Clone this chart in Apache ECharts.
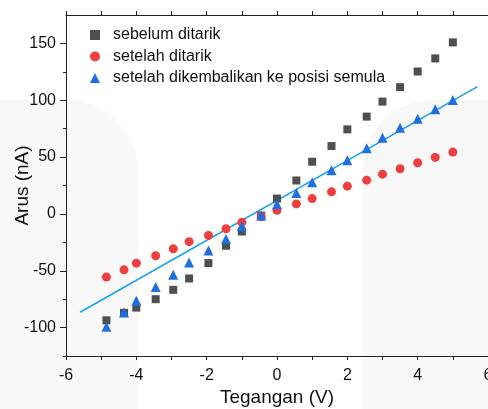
<!DOCTYPE html>
<html>
<head>
  <meta charset="utf-8">
  <title>Arus vs Tegangan</title>
  <style>
    body { margin: 0; background: #ffffff; }
    #chart { width: 488px; height: 409px; }
  </style>
</head>
<body>
  <div id="chart"></div>
  <script src="https://cdn.jsdelivr.net/npm/echarts@6/dist/echarts.min.js"></script>
  <script>
    // Tegangan (V), same for the three measurements
    var tegangan = [-4.85, -4.35, -4, -3.45, -2.95, -2.5, -1.95, -1.45, -1, -0.45, 0,
      0.55, 1, 1.55, 2, 2.55, 3, 3.5, 4, 4.5, 5];
    // Arus (nA)
    var sebelum = [-93.6, -87, -82.4, -75, -66.8, -56.8, -43.3, -28, -15.5, -1.5, 13.5,
      29.4, 45.9, 59.7, 74.4, 85.6, 98.8, 111.5, 125.3, 136.8, 150.9];
    var setelah = [-55.6, -49.2, -43.3, -36.8, -30.6, -24.4, -18.9, -13, -7.4, -2.6, 3.2,
      8.8, 13.5, 19.4, 24.4, 29.7, 35, 39.7, 45, 49.7, 54.4];
    var kembali = [-99.2, -86.8, -76.3, -64.4, -53.6, -42.7, -32.1, -22, -10.9, -1.5, 8.5,
      18.5, 27.9, 38.5, 47.3, 57.8, 67, 75.9, 83.8, 92, 100.3];
    // linear fit line endpoints
    var fitX = [-5.6, 5.7];
    var fitY = [-86.5, 112];

    var xLabels = [-6, -4, -2, 0, 2, 4, 6];
    var yLabels = [-100, -50, 0, 50, 100, 150];
    var yMinor = [-125, -75, -25, 25, 75, 125];

    function pairs(xs, ys) {
      return xs.map(function (x, i) { return [x, ys[i]]; });
    }

    var font = 'Arial, "Liberation Sans", sans-serif';
    var chart = echarts.init(document.getElementById('chart'));

    var option = {
      animation: false,
      textStyle: { fontFamily: font },
      // faint watermark shapes behind the plot
      graphic: [
        { type: 'rect', z: -10, silent: true,
          shape: { x: -120, y: 100, width: 258, height: 400, r: 70 },
          style: { fill: '#f8f8f8' } },
        { type: 'rect', z: -10, silent: true,
          shape: { x: 363, y: 100, width: 260, height: 400, r: 70 },
          style: { fill: '#f8f8f8' } }
      ],
      grid: { left: 66, right: 0, top: 15, bottom: 53, outerBoundsMode: 'none', containLabel: false },
      legend: {
        orient: 'vertical',
        left: 85,
        top: 22,
        itemWidth: 10,
        itemHeight: 10,
        itemGap: 5.5,
        textStyle: { fontSize: 16, color: '#111', padding: [0, 0, 0, 8] },
        data: ['sebelum ditarik', 'setelah ditarik', 'setelah dikembalikan ke posisi semula']
      },
      xAxis: [{
        type: 'value',
        min: -6, max: 6, interval: 1,
        name: 'Tegangan (V)',
        nameLocation: 'middle',
        nameGap: 32,
        nameMoveOverlap: false,
        nameTextStyle: { fontSize: 19, color: '#111' },
        axisLine: { onZero: false, lineStyle: { color: '#222', width: 1 } },
        axisTick: { inside: false, length: 4, lineStyle: { color: '#222' } },
        axisLabel: { customValues: xLabels, fontSize: 16, color: '#111', margin: 12 },
        splitLine: { show: false }
      }, {
        type: 'value',
        position: 'top',
        min: -6, max: 6, interval: 1,
        axisLine: { onZero: false, lineStyle: { color: '#222', width: 1 } },
        axisTick: { inside: false, length: 4, lineStyle: { color: '#222' } },
        axisLabel: { show: false },
        splitLine: { show: false }
      }],
      yAxis: [{
        type: 'value',
        min: -125, max: 175, interval: 25,
        name: 'Arus (nA)',
        nameLocation: 'middle',
        nameGap: 34,
        nameMoveOverlap: false,
        nameTextStyle: { fontSize: 19, color: '#111' },
        axisLine: { show: true, onZero: false, lineStyle: { color: '#222', width: 1 } },
        axisTick: { customValues: yLabels, inside: false, length: 6, lineStyle: { color: '#222' } },
        axisLabel: { customValues: yLabels, fontSize: 16, color: '#111', margin: 10 },
        splitLine: { show: false }
      }, {
        type: 'value',
        position: 'left',
        min: -125, max: 175, interval: 25,
        axisLine: { show: false, onZero: false },
        axisTick: { show: true, customValues: yMinor, inside: false, length: 3, lineStyle: { color: '#222' } },
        axisLabel: { show: false },
        splitLine: { show: false }
      }],
      series: [{
        name: 'fit',
        type: 'line',
        data: pairs(fitX, fitY),
        symbol: 'none',
        lineStyle: { color: '#18a0f5', width: 1.5 },
        z: 1
      }, {
        name: 'sebelum ditarik',
        type: 'scatter',
        data: pairs(tegangan, sebelum),
        symbol: 'rect',
        symbolSize: 8,
        itemStyle: { color: '#4f4f4f', opacity: 1 },
        z: 2
      }, {
        name: 'setelah ditarik',
        type: 'scatter',
        data: pairs(tegangan, setelah),
        symbol: 'circle',
        symbolSize: 9,
        itemStyle: { color: '#ef3e3e', opacity: 1 },
        z: 3
      }, {
        name: 'setelah dikembalikan ke posisi semula',
        type: 'scatter',
        data: pairs(tegangan, kembali),
        symbol: 'triangle',
        symbolSize: 10,
        itemStyle: { color: '#1f6fe0', opacity: 1 },
        z: 4
      }]
    };

    chart.setOption(option);
  </script>
</body>
</html>
